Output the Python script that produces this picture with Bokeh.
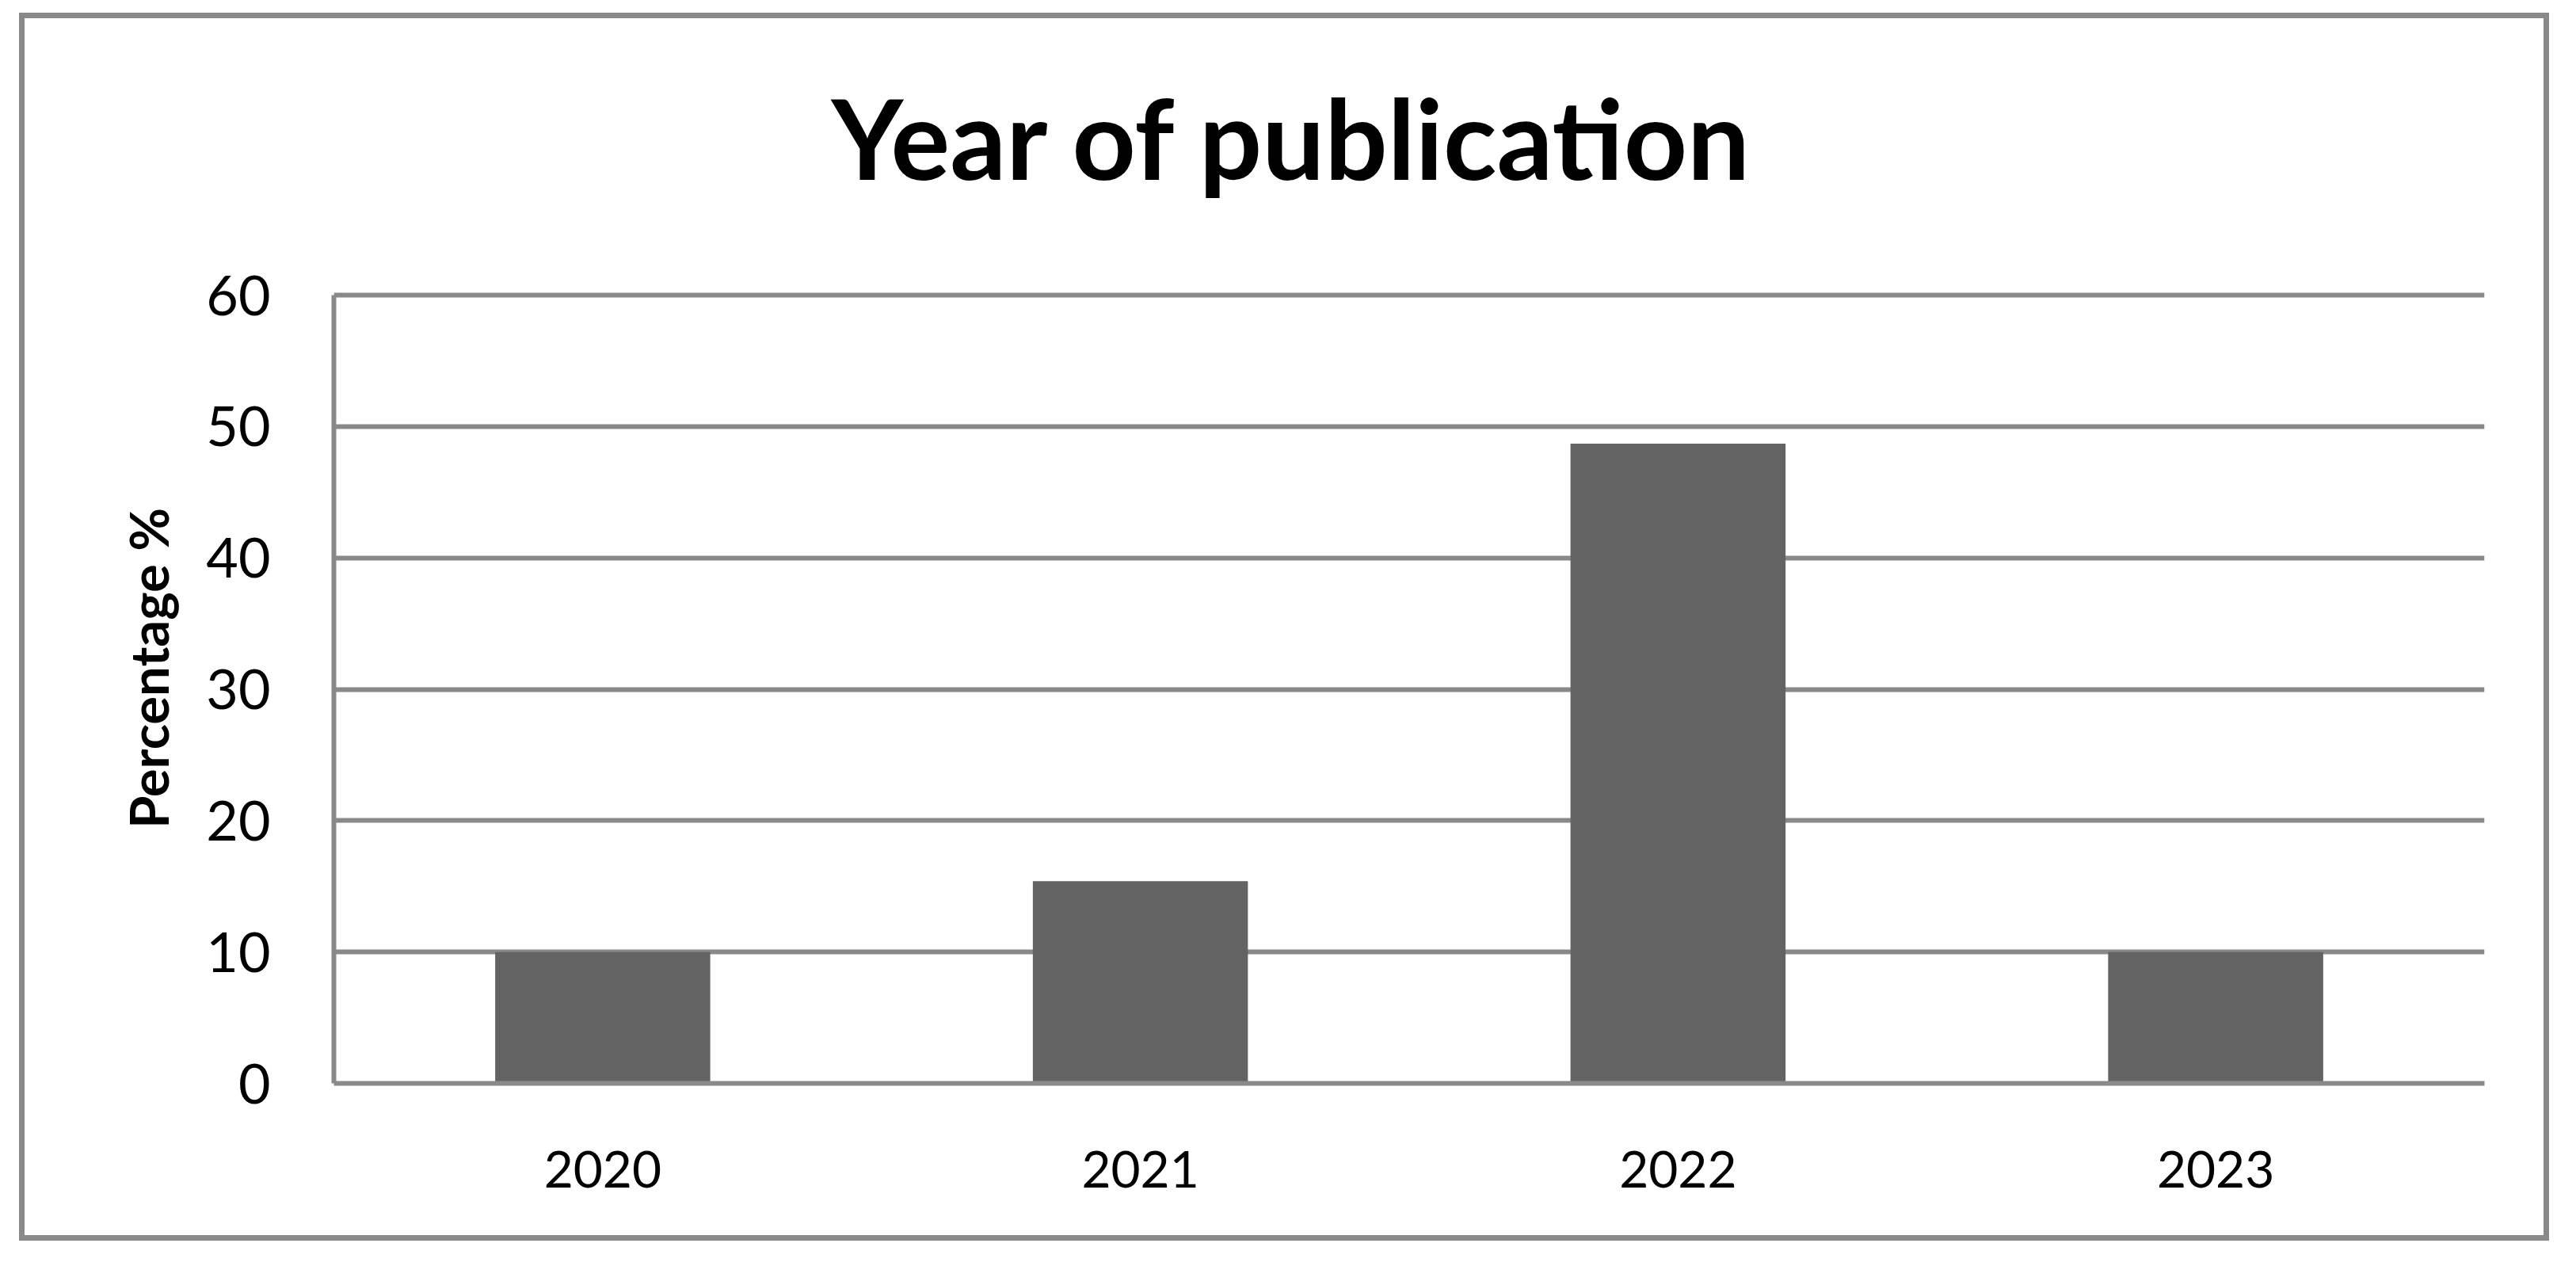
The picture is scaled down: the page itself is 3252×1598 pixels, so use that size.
from bokeh.plotting import figure
from bokeh.models import Range1d, FactorRange, ColumnDataSource
from bokeh.embed import file_html
from bokeh.resources import INLINE

# ---- data ----
years = ["2020", "2021", "2022", "2023"]
percentages = [10.0, 15.4, 48.7, 10.0]
y_ticks = [0, 10, 20, 30, 40, 50, 60]
title_text = "Year of publication"
y_label = "Percentage %"

GRID = "#898989"
BAR = "#636363"

src = ColumnDataSource(data=dict(year=years, pct=percentages))

p = figure(
    width=3194, height=1550,
    x_range=FactorRange(*years, range_padding=0),
    y_range=Range1d(0, 63.2),
    output_backend="svg", toolbar_location=None,
    min_border_left=390, min_border_right=89,
    min_border_top=10, min_border_bottom=206,
    styles={"margin-left": "24px", "margin-top": "16px",
            "border": "7px solid #898989"},
)
p.outline_line_color = None
p.background_fill_color = "white"
p.border_fill_color = "white"

p.vbar(x="year", top="pct", width=0.4, source=src,
       fill_color=BAR, line_color=None)

# title
p.title.text = title_text
p.title.align = "left"
p.title.offset = 628
p.title.vertical_align = "bottom"
p.title.standoff = 126
p.title.text_font = "Lato"
p.title.text_font_style = "bold"
p.title.text_font_size = "140px"
p.title.text_color = "black"

# grid
p.xgrid.grid_line_color = None
p.ygrid.grid_line_color = GRID
p.ygrid.grid_line_width = 6
p.yaxis.ticker = y_ticks
p.yaxis.bounds = (0, 60)

# y axis
p.yaxis.axis_line_color = GRID
p.yaxis.axis_line_width = 6
p.yaxis.major_tick_line_color = None
p.yaxis.minor_tick_line_color = None
p.yaxis.major_tick_out = 0
p.yaxis.major_tick_in = 0
p.yaxis.major_label_text_font = "Lato"
p.yaxis.major_label_text_font_size = "70px"
p.yaxis.major_label_text_color = "black"
p.yaxis.major_label_standoff = 80
p.yaxis.axis_label = y_label
p.yaxis.axis_label_text_font = "Lato"
p.yaxis.axis_label_text_font_style = "bold"
p.yaxis.axis_label_text_font_size = "67px"
p.yaxis.axis_label_text_color = "black"
p.yaxis.axis_label_standoff = 30

# x axis
p.xaxis.axis_line_color = GRID
p.xaxis.axis_line_width = 6
p.xaxis.major_tick_line_color = None
p.xaxis.minor_tick_line_color = None
p.xaxis.major_tick_out = 0
p.xaxis.major_tick_in = 0
p.xaxis.major_label_text_font = "Lato"
p.xaxis.major_label_text_font_size = "64px"
p.xaxis.major_label_text_color = "black"
p.xaxis.major_label_standoff = 85

open("out.html", "w").write(file_html(p, INLINE))
